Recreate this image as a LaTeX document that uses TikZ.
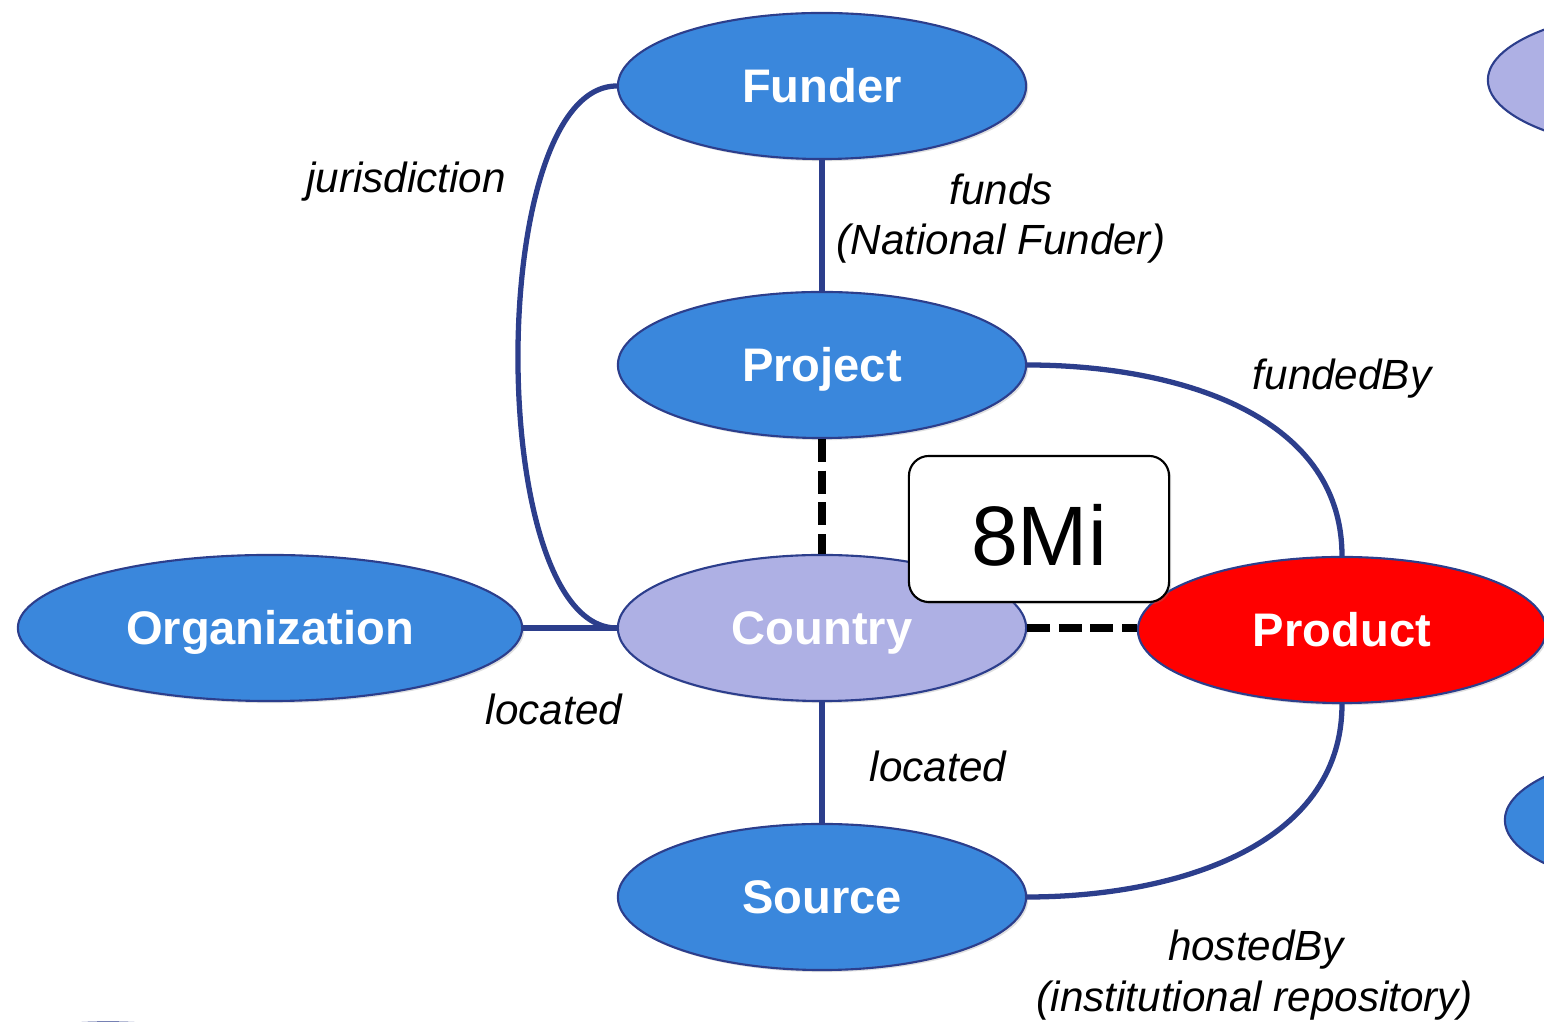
\documentclass[tikz,border=0pt]{standalone}
\usepackage{fontspec}
\setmainfont{Liberation Sans}
\usetikzlibrary{shapes.geometric,shadows,positioning}

\definecolor{entblue}{RGB}{58,135,220}
\definecolor{entlav}{RGB}{174,176,228}
\definecolor{entred}{RGB}{255,0,0}
\definecolor{linkblue}{RGB}{44,62,140}

\tikzset{
  ent/.style={ellipse, draw=linkblue, line width=0.6pt, fill=entblue,
    minimum width=4.08cm, minimum height=1.46cm, inner sep=0pt,
    text=white, font=\fontsize{13.4}{16}\selectfont\bfseries,
    text height=9.6pt, text depth=0pt,
    drop shadow={opacity=0.25, shadow xshift=0.6pt, shadow yshift=-0.6pt}},
  link/.style={draw=linkblue, line width=1.5pt},
  weak/.style={draw=black, line width=2pt, dash pattern=on 6.5pt off 2.5pt},
  rel/.style={font=\fontsize{12}{14.8}\selectfont\itshape, anchor=base, inner sep=0pt},
  countbox/.style={draw=black, line width=0.6pt, fill=white, rounded corners=0.2cm,
    minimum width=2.6cm, minimum height=1.46cm, font=\fontsize{24}{28}\selectfont,
    text height=20.6pt, text depth=0pt,
    drop shadow={opacity=0.3, shadow xshift=0.6pt, shadow yshift=-0.6pt}}
}

\begin{document}
\begin{tikzpicture}[x=0.01cm, y=-0.01cm]
\useasboundingbox (0,0) rectangle (1544,1022);
\clip (0,0) rectangle (1544,1022);

%% entities
\node[ent](funder) at (822,86){Funder};
\node[ent](project) at (822,365){Project};
\node[ent, fill=entlav](country) at (822,628){Country};
\node[ent, minimum width=5.04cm](org) at (270,628){Organization};
\node[ent, fill=entred](product) at (1342,630){Product};
\node[ent](source) at (822,897){Source};

%% entities cut by the page edge
\node[ent, fill=entlav](offtop) at (1692,80){};
\node[ent](offright) at (1709,820){};
\node[ent](offbottom) at (108,1095.5){};

%% links
\draw[link] (funder) -- (project);
\draw[link] (funder.west) .. controls (485,86) and (485,628) .. (country.west);
\draw[link] (org) -- (country);
\draw[link] (country) -- (source);
\draw[link] (project.east) to[out=0, in=90] (product.north);
\draw[link] (source.east) to[out=0, in=-90] (product.south);

\draw[weak] (project) -- (country);
\draw[weak] (country.east) -- (product.west |- country.east);

%% link labels
\node[rel](lab_juris) at (406,193){jurisdiction};
\node[rel](lab_funds) at (1001,205){funds};
\node[rel](lab_natfund) at (1001,255){(National Funder)};
\node[rel](lab_fundedby) at (1342,390){fundedBy};
\node[rel](lab_loc_org) at (554,725){located};
\node[rel](lab_loc_src) at (938,782){located};
\node[rel](lab_hosted) at (1256,961){hostedBy};
\node[rel](lab_instrepo) at (1255,1012){(institutional repository)};

%% count
\node[countbox](count) at (1039,529){8Mi};

\end{tikzpicture}
\end{document}
